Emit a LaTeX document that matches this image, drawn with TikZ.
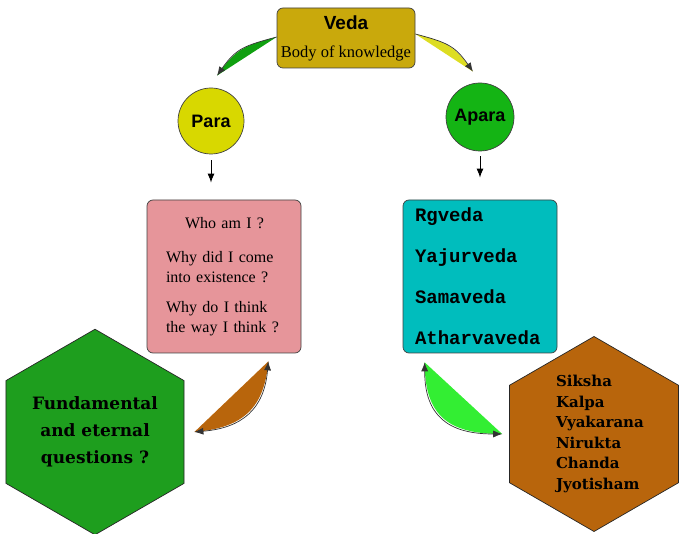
\documentclass[tikz,border=0pt]{standalone}
\usepackage{fontspec}
\setmainfont{Liberation Serif}
\setsansfont{Liberation Sans}
\setmonofont{Liberation Mono}
\newfontfamily\hexfont{DejaVu Serif}
\usepackage{tikz}
\usetikzlibrary{shapes.geometric}
\usetikzlibrary{arrows.meta}
\tikzset{>={Latex[width=7pt,length=9pt]}}
\definecolor{vedagold}{HTML}{C9A90C}
\definecolor{parayellow}{HTML}{D8D800}
\definecolor{aparagreen}{HTML}{14B414}
\definecolor{whopink}{HTML}{E6959A}
\definecolor{vedateal}{HTML}{00BDBD}
\definecolor{fundgreen}{HTML}{1E9E1E}
\definecolor{angabrown}{HTML}{B8650C}
\definecolor{leftswoosh}{HTML}{10A010}
\definecolor{rightswoosh}{HTML}{DDDD22}
\definecolor{limeswoosh}{HTML}{33EE33}

\begin{document}
\begin{tikzpicture}[x=1pt,y=1pt,
  box/.style={draw=black!75, line width=0.7pt, rounded corners=6pt, inner sep=0pt},
  ball/.style={circle, draw=black!75, line width=0.7pt, inner sep=0pt,
    font=\sffamily\bfseries\fontsize{18}{20}\selectfont},
  hexa/.style={regular polygon, regular polygon sides=6, shape border rotate=30,
    minimum size=195pt, inner sep=0pt, draw=black!85, line width=0.7pt},
  swoosh/.style={draw=black!80, line width=0.7pt}]

\useasboundingbox (0,0) rectangle (680,533); %% page size

%% top of the tree
\node[box, fill=vedagold, minimum width=138pt, minimum height=60pt, align=center]
  (veda) at (346,495)
  {{\sffamily\bfseries\fontsize{19}{19}\selectfont Veda}\\[16pt]
   \fontsize{16.5}{18}\selectfont Body of knowledge};

\node[ball, fill=parayellow, minimum size=66pt] (para) at (211,412) {Para};
\node[ball, fill=aparagreen, minimum size=68pt] (apara) at (480,416) {Apara};

%% the two boxes
\node[box, fill=whopink, minimum width=154pt, minimum height=153pt,
  text width=116pt, align=left, font=\fontsize{16}{20}\selectfont]
  (who) at (224,256.5)
  {\hspace*{19pt}Who am I ?\\[14pt]
   Why did I come\\ into existence ?\\[10pt]
   Why do I think\\ the way I think ?};

\node[box, fill=vedateal, minimum width=154pt, minimum height=153pt,
  text width=130pt, align=left, font=\ttfamily\bfseries\fontsize{19}{41}\selectfont]
  (vedas) at (480,256.5)
  {Rgveda\\Yajurveda\\Samaveda\\Atharvaveda};

%% hexagons
\node[hexa, fill=fundgreen, align=center,
  font=\hexfont\bfseries\fontsize{17}{27}\selectfont]
  (fund) at (95,101) {Fundamental\\and eternal\\questions ?};

\node[hexa, fill=angabrown, text width=76pt, align=left,
  font=\hexfont\bfseries\fontsize{15}{20.5}\selectfont]
  (anga) at (594,99)
  {Siksha\\Kalpa\\Vyakarana\\Nirukta\\Chanda\\Jyotisham};

%% straight arrows
\draw[->, line width=1pt, shorten <=6pt, shorten >=17pt]
  (para.south) -- (para.south |- who.north);
\draw[->, line width=1pt, shorten <=5pt, shorten >=22pt]
  (apara.south) -- (apara.south |- vedas.north);

%% curved arrows
\coordinate (vp1) at ([yshift=1pt]veda.west);
\coordinate (vp2) at ([shift={(6pt,12pt)}]para.north);
\fill[leftswoosh] (vp1) to[out=195,in=55,looseness=1.2] (vp2) -- cycle;
\draw[->, swoosh] (vp1) to[out=195,in=55,looseness=1.2] (vp2);

\coordinate (va1) at ([yshift=4pt]veda.east);
\coordinate (va2) at ([shift={(-7pt,11pt)}]apara.north);
\fill[rightswoosh] (va1) to[out=-15,in=125,looseness=1.2] (va2) -- cycle;
\draw[->, swoosh] (va1) to[out=-15,in=125,looseness=1.2] (va2);

\coordinate (wf1) at ([shift={(-33pt,-8pt)}]who.south east);
\coordinate (wf2) at ([xshift=10pt]fund.east);
\fill[angabrown] (wf1) to[out=-95,in=5,looseness=1.2] (wf2) -- cycle;
\draw[<->, swoosh] (wf1) to[out=-95,in=5,looseness=1.2] (wf2);

\coordinate (va3) at ([shift={(22pt,-9pt)}]vedas.south west);
\coordinate (va4) at ([xshift=-7pt]anga.west);
\fill[limeswoosh] (va3) to[out=-90,in=180,looseness=1.3] (va4) -- cycle;
\draw[<->, swoosh] (va3) to[out=-90,in=180,looseness=1.3] (va4);

\end{tikzpicture}
\end{document}
